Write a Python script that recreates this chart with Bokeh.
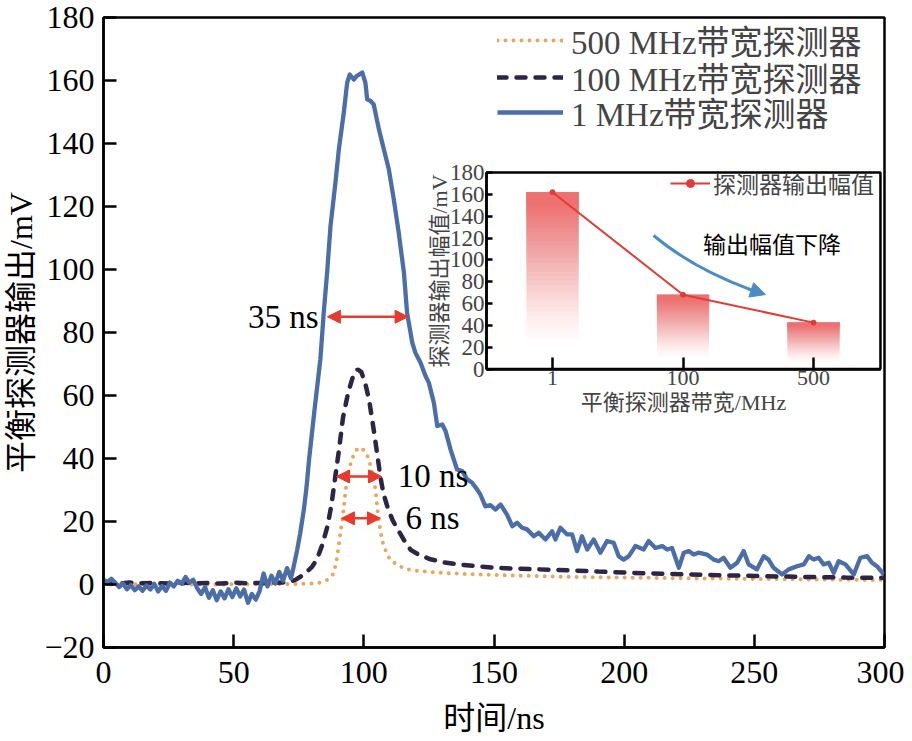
from bokeh.plotting import figure
from bokeh.models import (Range1d, LinearAxis, FixedTicker, Legend, LegendItem,
                          Arrow, NormalHead, Label)
from bokeh.embed import file_html
from bokeh.resources import INLINE

SERIF = "'Liberation Serif', 'Noto Sans CJK SC'"

# ---------------- data ----------------
t_1mhz = [0, 1.5, 3, 4.5, 6, 7.5, 9, 10.5, 12, 13.5, 15, 16.5, 18, 19.5, 21, 22.5, 24, 25.5,
          27, 28.5, 30, 31.5, 33, 34.5, 36, 37.5, 39, 40.5, 42, 43.5, 45, 46.5, 48, 49.5, 51,
          52.5, 54, 55.5, 57, 58.5, 60, 61.5, 63, 64.5, 66, 67.5, 69, 70.5, 72, 73, 74.4, 75.5,
          77, 78, 79, 81, 83.3, 84.6, 85.9, 87.2, 89.1, 90.4, 92.3, 93.6, 94.6, 96.2, 97.2,
          99.4, 100.6, 101.3, 102.6, 103.8, 105.8, 107.7, 109.6, 111.5, 113.4, 115.4, 116.6,
          118.6, 119.8, 121.8, 123.7, 125.0, 126.9, 128.2, 130.1, 131.4, 133.3, 135.8, 137.8,
          139.7, 141.6, 143.5, 144.8, 146.7, 148.6, 150.6, 152.5, 155.0, 157.0, 158.9, 160.8,
          162.7, 165.3, 167.2, 169.8, 172.3, 173.6, 175.5, 178.1, 180.0, 181.9, 183.8, 185.8,
          188.3, 190.9, 193.4, 196.0, 197.9, 199.8, 201.8, 204.3, 207.5, 209.4, 212.0, 214.6,
          216.5, 218.4, 221.0, 222.9, 224.8, 226.7, 228.6, 231.8, 234.4, 236.3, 238.2, 240.8,
          243.4, 245.9, 247.8, 251.0, 253.6, 255.5, 257.4, 260.6, 263.2, 266.4, 269.0, 271.0,
          272.8, 274.7, 276.6, 278.6, 280.5, 282.4, 285.0, 288.2, 290.7, 293.3, 295.2, 297.1,
          299.7]
v_1mhz = [1.5, 0.8, 1.8, 0.6, -0.8, 0.3, -1.5, -0.2, -1.8, -0.6, -2.0, -0.3, -1.6, 0.2, -2.2,
          -0.5, -2.0, 0.6, -0.6, 1.2, 0.2, 2.4, 0.6, 1.5, -1.2, -3.0, -0.8, -4.2, -1.8, -5.0,
          -2.2, -4.4, -1.5, -4.0, -1.2, -3.8, -1.6, -5.8, -3.0, -4.8, -2.0, 3.5, -0.6, 2.8, 0.3,
          4.0, 1.2, 5.2, 2.0, 5.5, 11.0, 16.0, 24.0, 31.0, 40.0, 55.0, 71.5, 86.3, 99.0, 113.8,
          127.6, 138.1, 149.8, 159.3, 161.9, 160.3, 161.4, 162.5, 159.3, 154.0, 153.5, 152.4,
          144.5, 138.1, 131.8, 122.3, 111.7, 99.0, 86.3, 76.8, 73.6, 70.4, 66.2, 64.0, 57.7,
          50.3, 50.8, 48.7, 42.9, 36.5, 36.0, 33.4, 32.3, 30.2, 28.5, 24.8, 25.2, 23.8, 25.4,
          22.2, 18.5, 19.6, 18.0, 17.5, 15.3, 16.4, 14.3, 16.9, 14.3, 18.0, 15.9, 15.9, 10.6,
          15.3, 11.1, 14.3, 10.1, 13.8, 13.2, 9.0, 7.9, 9.0, 12.2, 11.1, 13.8, 11.6, 12.2, 11.1,
          11.6, 5.3, 10.1, 10.6, 9.5, 10.1, 9.5, 7.9, 7.4, 8.5, 5.3, 6.9, 10.6, 6.4, 4.8, 9.0,
          7.9, 5.3, 3.2, 4.8, 5.8, 6.4, 9.0, 7.9, 8.5, 6.4, 6.9, 3.7, 7.4, 6.4, 3.2, 8.5, 9.0,
          6.9, 5.8, 3.2]

t_100mhz = [0, 5, 10, 15, 20, 25, 30, 35, 40, 45, 50, 55, 60, 65, 70, 72, 74, 75.7, 78, 80,
            82, 84, 86, 87.5, 89, 90.5, 92, 94, 96, 97.6, 99, 100.5, 102, 104, 106.4, 107.5,
            109, 111, 113, 115.5, 118, 121, 125.6, 131, 137, 145, 150, 160, 175, 190, 210, 230,
            250, 270, 285, 300]
v_100mhz = [0.5, 0.3, 0.6, 0.4, 0.5, 0.3, 0.6, 0.4, 0.5, 0.3, 0.6, 0.4, 0.5, 0.5, 0.7, 0.9,
            1.6, 2.5, 4.0, 5.5, 8.0, 12.5, 18.4, 25.0, 34.0, 43.0, 53.0, 61.0, 66.5, 68.3, 67.5,
            64.0, 58.7, 48.0, 34.0, 29.0, 24.8, 20.5, 17.5, 14.0, 11.0, 9.5, 8.0, 7.0, 6.3, 5.7,
            5.3, 5.0, 4.6, 4.1, 3.5, 3.1, 2.7, 2.4, 2.2, 2.1]

t_500mhz = [0, 20, 40, 60, 75, 80, 83, 86, 88.4, 89.5, 90.3, 91, 91.8, 93, 94, 95, 96.5, 98,
            99.5, 101, 102, 103.3, 104.5, 105.6, 107, 108.5, 110, 113, 116.8, 122, 128, 140,
            151, 180, 220, 260, 300]
v_500mhz = [0.0, 0.1, 0.0, 0.1, 0.2, 0.3, 0.6, 1.5, 3.5, 7.5, 12.0, 16.5, 20.6, 30.0, 35.0,
            38.7, 42.0, 43.5, 43.0, 41.5, 39.7, 35.0, 30.0, 21.0, 14.0, 10.5, 8.0, 6.0, 4.8,
            4.2, 3.8, 3.3, 3.0, 2.4, 2.0, 1.7, 1.4]

series_labels = ["500 MHz带宽探测器", "100 MHz带宽探测器", "1 MHz带宽探测器"]

x_ticks = [0, 50, 100, 150, 200, 250, 300]
y_ticks = [-20, 0, 20, 40, 60, 80, 100, 120, 140, 160, 180]

# FWHM markers
fwhm_text = ["35 ns", "10 ns", "6 ns"]
fwhm_x0 = [86.0, 89.5, 91.4]
fwhm_x1 = [117.0, 106.8, 106.4]
fwhm_y = [85.0, 34.3, 21.0]
fwhm_label_x = [82.6, 113.0, 116.0]
fwhm_label_align = ["right", "left", "left"]

# inset: detector output amplitude vs bandwidth
bw_labels = ["1", "100", "500"]
bw_pos = [0, 1, 2]
peak_mv = [162.0, 68.0, 42.5]
inset_y_ticks = [0, 20, 40, 60, 80, 100, 120, 140, 160, 180]

# ---------------- colours ----------------
ORANGE = "#E9A65E"
DARK = "#2E2545"
BLUE = "#4B6EA8"
RED = "#E8392D"
BAR = "#EE7070"
LRED = "#E23B37"
ABLUE = "#4C8CC4"

p = figure(width=904, height=741, x_range=Range1d(0, 300), y_range=Range1d(-20, 180),
           output_backend="svg", toolbar_location=None,
           min_border_left=103, min_border_right=20, min_border_top=17, min_border_bottom=94,
           background_fill_color="white", border_fill_color="white")
p.grid.visible = False
p.outline_line_color = "black"
p.outline_line_width = 2.5

for ax in (p.xaxis[0], p.yaxis[0]):
    ax.axis_line_width = 2.5
    ax.major_tick_line_width = 2.5
    ax.major_tick_in = 13
    ax.major_tick_out = 0
    ax.minor_tick_line_color = None
    ax.major_label_text_font = SERIF
    ax.major_label_text_font_size = "32px"
    ax.axis_label_text_font = SERIF
    ax.axis_label_text_font_size = "32px"
    ax.axis_label_text_font_style = "normal"
    ax.major_label_text_color = "black"
    ax.axis_label_text_color = "black"

p.xaxis.ticker = FixedTicker(ticks=x_ticks)
p.yaxis.ticker = FixedTicker(ticks=y_ticks)
p.yaxis.major_label_overrides = {-20: "\u221220"}
p.xaxis.axis_label = "时间/ns"
p.yaxis.axis_label = "平衡探测器输出/mV"
p.xaxis.major_label_standoff = 14
p.xaxis.axis_label_standoff = 14
p.yaxis.major_label_standoff = 9
p.yaxis.axis_label_standoff = 2

# ---------------- main curves ----------------
r500 = p.line(t_500mhz, v_500mhz, line_color=ORANGE, line_width=4, line_dash="0 8",
              line_cap="round")
r100 = p.line(t_100mhz, v_100mhz, line_color=DARK, line_width=4.5, line_dash="9 10",
              line_cap="round")
r1 = p.line(t_1mhz, v_1mhz, line_color=BLUE, line_width=4.3, line_join="round")

# one legend per row so that the row spacing matches the reference
legend_rows_vy = [583, 546, 511]
for lab, rend, vy in zip(series_labels, [r500, r100, r1], legend_rows_vy):
    p.add_layout(Legend(items=[LegendItem(label=lab, renderers=[rend])],
                        location=(394, vy), label_text_font=SERIF, label_text_font_size="33px",
                        glyph_width=66, glyph_height=30, label_height=30, label_standoff=8,
                        spacing=0, padding=0, margin=0, border_line_color=None,
                        background_fill_alpha=0))

# FWHM arrows and labels
for i in range(len(fwhm_text)):
    p.add_layout(Arrow(x_start=fwhm_x0[i], y_start=fwhm_y[i], x_end=fwhm_x1[i], y_end=fwhm_y[i],
                       line_color=RED, line_width=2.5,
                       start=NormalHead(size=13, fill_color=RED, line_color=RED),
                       end=NormalHead(size=13, fill_color=RED, line_color=RED)))
    p.add_layout(Label(x=fwhm_label_x[i], y=fwhm_y[i], text=fwhm_text[i],
                       text_align=fwhm_label_align[i], text_baseline="middle",
                       text_font=SERIF, text_font_size="33px", text_color="black"))

# ---------------- inset (own ranges on the same canvas) ----------------
p.extra_x_ranges = {"ix": Range1d(-3.441, 2.544)}
p.extra_y_ranges = {"iy": Range1d(-255.1, 322.0)}
INSET_X = (-0.506, 2.513)
INSET_Y = (0, 180)

p.quad(left=[INSET_X[0]], right=[INSET_X[1]], bottom=[INSET_Y[0]], top=[INSET_Y[1]],
       fill_color="white", line_color="black", line_width=2.5,
       x_range_name="ix", y_range_name="iy")

# gradient bars: overlapping layers, each from its start height up to the bar top
n_sl = 40
ql, qr, qb, qt, qa = [], [], [], [], []
for pos, v in zip(bw_pos, peak_mv):
    prev = 0.0
    for k in range(n_sl):
        frac = (k + 0.5) / n_sl
        target = min(0.985, max(0.0, (frac - 0.14) / 0.8) ** 1.25)
        a = 1.0 - (1.0 - target) / (1.0 - prev) if target > prev else 0.0
        prev = max(prev, target)
        if a <= 0:
            continue
        ql.append(pos - 0.2)
        qr.append(pos + 0.2)
        qb.append(v * k / n_sl)
        qt.append(v)
        qa.append(a)
p.quad(left=ql, right=qr, bottom=qb, top=qt, fill_color=BAR, fill_alpha=qa, line_color=None,
       x_range_name="ix", y_range_name="iy")

rl = p.line(bw_pos, peak_mv, line_color=LRED, line_width=2, x_range_name="ix", y_range_name="iy")
rp = p.scatter(bw_pos, peak_mv, size=5, marker="circle", fill_color=LRED, line_color=LRED,
               x_range_name="ix", y_range_name="iy")

iy_axis = LinearAxis(x_range_name="ix", y_range_name="iy", fixed_location=INSET_X[0],
                     bounds=INSET_Y, ticker=FixedTicker(ticks=inset_y_ticks),
                     axis_label="探测器输出幅值/mV")
ix_axis = LinearAxis(x_range_name="ix", y_range_name="iy", fixed_location=INSET_Y[0],
                     bounds=INSET_X, ticker=FixedTicker(ticks=bw_pos),
                     major_label_overrides={pos: lab for pos, lab in zip(bw_pos, bw_labels)},
                     axis_label="平衡探测器带宽/MHz")
for ax in (iy_axis, ix_axis):
    ax.axis_line_width = 2.5
    ax.major_tick_line_width = 2.5
    ax.major_tick_out = 0
    ax.minor_tick_line_color = None
    ax.major_label_text_font = SERIF
    ax.axis_label_text_font = SERIF
    ax.axis_label_text_font_size = "22px"
    ax.axis_label_text_font_style = "normal"
iy_axis.major_tick_in = 6
iy_axis.major_label_text_font_size = "23px"
iy_axis.major_label_standoff = 2
iy_axis.axis_label_standoff = -5
ix_axis.major_tick_in = 12
ix_axis.major_label_text_font_size = "22px"
ix_axis.major_label_standoff = 2
ix_axis.axis_label_standoff = 1
p.add_layout(iy_axis, "left")
p.add_layout(ix_axis, "below")

legend2 = Legend(items=[LegendItem(label="探测器输出幅值", renderers=[rl, rp])],
                 location=(567, 447), label_text_font=SERIF, label_text_font_size="23px",
                 glyph_width=40, glyph_height=20, label_height=20, label_standoff=3,
                 padding=0, margin=0, border_line_color=None, background_fill_alpha=0)
p.add_layout(legend2)

# curved "decreasing" arrow
p.quadratic(x0=[0.774], y0=[122.3], x1=[1.517], y1=[72.8], cx=[1.076], cy=[92.1],
            line_color=ABLUE, line_width=3, x_range_name="ix", y_range_name="iy")
p.add_layout(Arrow(x_start=1.50, y_start=73.4, x_end=1.632, y_end=68.2,
                   line_color=ABLUE, line_width=3, start=None,
                   end=NormalHead(size=15, fill_color=ABLUE, line_color=ABLUE),
                   x_range_name="ix", y_range_name="iy"))
p.add_layout(Label(x=1.682, y=113, text="输出幅值下降", text_align="center",
                   text_baseline="middle", text_font=SERIF, text_font_size="23px",
                   text_color="black", x_range_name="ix", y_range_name="iy"))

open("out.html", "w").write(file_html(p, INLINE))
